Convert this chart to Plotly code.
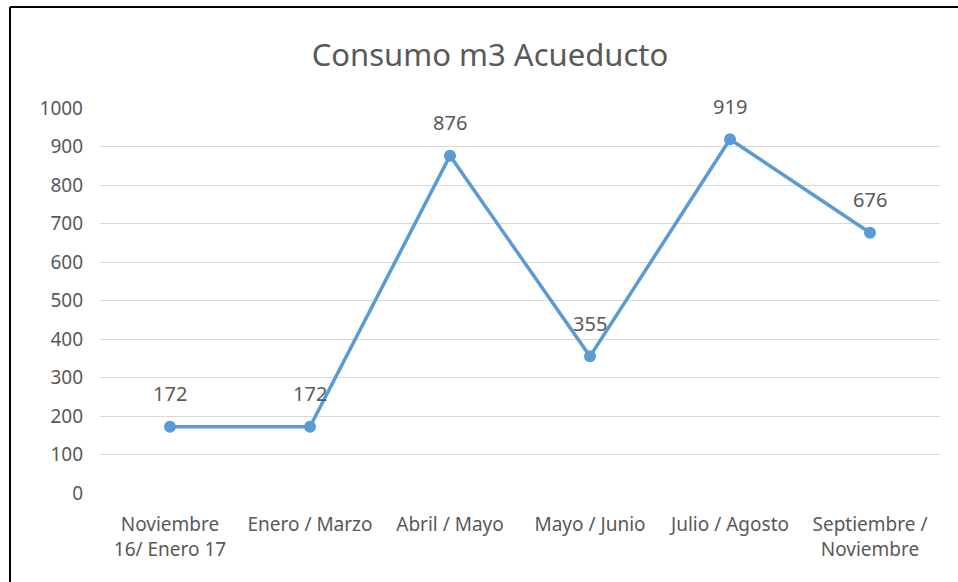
import plotly.graph_objects as go

categories = ["Noviembre<br>16/ Enero 17", "Enero / Marzo", "Abril / Mayo",
              "Mayo / Junio", "Julio / Agosto", "Septiembre /<br>Noviembre"]
values = [172, 172, 876, 355, 919, 676]
y_ticks = [0, 100, 200, 300, 400, 500, 600, 700, 800, 900, 1000]

W, H = 958, 582
L, R, T, B = 100, 18, 108, 89
pw, ph = W - L - R, H - T - B

def px_x(x):
    return (x - L) / pw

def px_y(y):
    return (H - B - y) / ph

GRAY = "#595959"
FONT = "Noto Sans"

fig = go.Figure()
fig.add_trace(go.Scatter(
    x=categories, y=values, mode="lines+markers",
    line=dict(color="#5B9BD5", width=3.5),
    marker=dict(color="#5B9BD5", size=12),
    hoverinfo="x+y", showlegend=False,
))
for c, v in zip(categories, values):
    fig.add_annotation(x=c, y=v, text=str(v), showarrow=False, yshift=33,
                       font=dict(family=FONT, size=20, color=GRAY))

fig.update_layout(
    width=W, height=H,
    margin=dict(l=L, r=R, t=T, b=B),
    paper_bgcolor="white", plot_bgcolor="white",
    title=dict(text="Consumo m3 Acueducto", x=490 / W, xanchor="center",
               y=1 - 55 / H, yanchor="middle",
               font=dict(family=FONT, size=31, color=GRAY)),
    xaxis=dict(range=[-0.5, 5.5], showgrid=False, zeroline=False,
               showline=False, ticks="", ticklabelstandoff=18,
               tickfont=dict(family=FONT, size=19, color=GRAY)),
    yaxis=dict(range=[0, 1000], tickvals=y_ticks, showgrid=True,
               gridcolor="#D9D9D9", gridwidth=1, zeroline=False,
               showline=False, ticks="", ticklabelstandoff=16,
               tickfont=dict(family=FONT, size=19, color=GRAY)),
    shapes=[
        dict(type="line", xref="paper", yref="paper",
             x0=px_x(10), x1=px_x(958), y0=px_y(7), y1=px_y(7),
             line=dict(color="black", width=2)),
        dict(type="line", xref="paper", yref="paper",
             x0=px_x(10), x1=px_x(10), y0=px_y(7), y1=px_y(582),
             line=dict(color="black", width=2)),
    ],
)

fig.write_html("out.html", config={"displayModeBar": False},
               post_script="document.body.style.margin='0';document.body.style.padding='0';")
